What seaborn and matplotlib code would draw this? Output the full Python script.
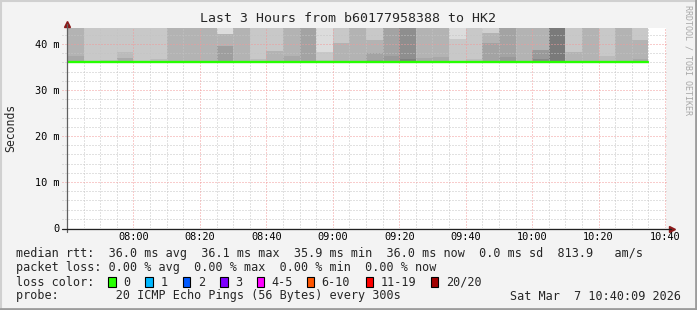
import matplotlib
matplotlib.use("Agg")
import matplotlib.pyplot as plt
import seaborn as sns
import pandas as pd
from matplotlib.patches import Rectangle
from matplotlib.lines import Line2D

# ---------------- data ----------------
col_start_min = [0, 5, 10, 15, 20, 25, 30, 35, 40, 45, 50, 55, 60, 65, 70, 75, 80,
                 85, 90, 95, 100, 105, 110, 115, 120, 125, 130, 135, 140, 145, 150,
                 155, 160, 165, 170]  # minutes after 07:40, 300 s steps
median_ms = [35.98, 35.98, 35.98, 35.98, 35.98, 35.98, 35.98, 36.15, 36.15, 36.15,
             35.98, 35.98, 35.98, 35.98, 35.98, 35.98, 35.98, 35.98, 35.98, 35.98,
             35.98, 35.98, 35.98, 35.98, 35.98, 35.98, 35.98, 35.98, 35.98, 36.15,
             36.15, 36.15, 35.98, 35.98, 35.98]
# smoke bands (from median upward): A lowest/darkest, B, C, D = top (clipped)
band_a_top_ms = [37.45, 35.98, 36.52, 37.03, 36.30, 36.74, 35.98, 36.15, 36.15, 36.38,
                 35.98, 36.74, 38.55, 37.39, 35.98, 36.52, 40.20, 35.98, 36.52, 37.39,
                 36.74, 37.03, 37.25, 41.15, 36.74, 40.30, 37.25, 35.98, 36.80, 36.15,
                 38.30, 36.15, 37.45, 35.98, 36.74]
band_a_gray = [168, 200, 187, 170, 189, 187, 179, 179, 179, 136,
               179, 187, 179, 168, 163, 190, 179, 179, 153, 153,
               128, 168, 168, 200, 189, 163, 153, 179, 136, 122,
               179, 179, 187, 179, 168]
band_b_top_ms = [37.45, 35.98, 36.52, 38.33, 36.30, 36.74, 35.98, 36.15, 36.15, 39.57,
                 35.98, 36.74, 38.55, 37.39, 35.98, 38.30, 40.20, 35.98, 38.12, 37.39,
                 36.74, 37.03, 37.25, 41.15, 36.74, 42.40, 37.25, 35.98, 38.65, 36.15,
                 38.30, 36.15, 37.45, 35.98, 40.90]
band_b_gray = [168, 200, 187, 187, 189, 187, 179, 179, 179, 158,
               179, 187, 179, 168, 163, 200, 179, 179, 163, 153,
               128, 168, 168, 200, 189, 179, 153, 179, 153, 122,
               179, 179, 187, 179, 179]
band_c_top_ms = [37.45, 35.98, 36.52, 38.33, 36.30, 36.74, 35.98, 36.15, 36.15, 42.17,
                 35.98, 36.74, 38.55, 37.39, 35.98, 38.30, 40.20, 35.98, 40.90, 37.39,
                 36.74, 37.03, 37.25, 41.15, 36.74, 42.40, 37.25, 35.98, 38.65, 36.15,
                 38.30, 36.15, 37.45, 35.98, 40.90]
band_c_gray = [168, 200, 187, 187, 189, 187, 179, 179, 179, 179,
               179, 187, 179, 168, 163, 200, 179, 179, 179, 153,
               128, 168, 168, 200, 189, 179, 153, 179, 153, 122,
               179, 179, 187, 179, 179]
band_d_gray = [179, 200, 200, 200, 200, 200, 179, 179, 179, 220,
               179, 200, 200, 179, 163, 220, 200, 179, 200, 163,
               142, 179, 179, 220, 200, 208, 163, 179, 179, 122,
               200, 179, 200, 179, 200]

x_tick_min = [20, 40, 60, 80, 100, 120, 140, 160, 180]
x_tick_labels = ["08:00", "08:20", "08:40", "09:00", "09:20", "09:40", "10:00", "10:20", "10:40"]
y_tick_s = [0.0, 0.01, 0.02, 0.03, 0.04]
y_tick_labels = ["0", "10 m", "20 m", "30 m", "40 m"]

title = "Last 3 Hours from b60177958388 to HK2"
legend_rtt = "median rtt:  36.0 ms avg  36.1 ms max  35.9 ms min  36.0 ms now  0.0 ms sd  813.9   am/s"
legend_loss = "packet loss: 0.00 % avg  0.00 % max  0.00 % min  0.00 % now"
loss_labels = ["0", "1", "2", "3", "4-5", "6-10", "11-19", "20/20"]
loss_colors = ["#26ff00", "#00b8ff", "#0059ff", "#7e00ff", "#ff00ff", "#ff5500", "#ff0000", "#a10000"]
probe_text = "probe:        20 ICMP Echo Pings (56 Bytes) every 300s"
date_text = "Sat Mar  7 10:40:09 2026"

# ---------------- style ----------------
sns.set_style("white")
plt.rcParams["font.family"] = ["DejaVu Sans Mono"]
MONO = "DejaVu Sans Mono"

W, H = 697, 310
fig = plt.figure(figsize=(W / 100, H / 100), dpi=100, facecolor="#f3f3f3")

def fx(x):
    return x / W

def fy(y):
    return 1 - y / H

ax_l, ax_r, ax_t, ax_b = 67, 666, 28, 228
ax = fig.add_axes([fx(ax_l), fy(ax_b), (ax_r - ax_l) / W, (ax_b - ax_t) / H])
ax.set_facecolor("white")
YMAX = 0.04348
XMAX = (ax_r - 66.5) / 3.325
ax.set_xlim(0, XMAX)
ax.set_ylim(0, YMAX)

def g(v):
    return "#%02x%02x%02x" % (v, v, v)

# smoke
df = pd.DataFrame({
    "t": col_start_min,
    "med": [m / 1000 for m in median_ms],
    "a": [m / 1000 for m in band_a_top_ms],
    "b": [m / 1000 for m in band_b_top_ms],
    "c": [m / 1000 for m in band_c_top_ms],
})
layers = [(None, band_d_gray), ("c", band_c_gray), ("b", band_b_gray), ("a", band_a_gray)]
for key, grays in layers:
    tops = [YMAX] * len(df) if key is None else df[key]
    heights = [tp - md for tp, md in zip(tops, df["med"])]
    ax.bar(df["t"], heights, bottom=df["med"], width=5, align="edge",
           color=[g(v) for v in grays], linewidth=0, antialiased=False, zorder=1)

# grid
minor_c, major_c = "#c4c4c4", "#f29a9a"
dot = (0, (1, 2))
for m in range(5, 181, 5):
    if m % 20 == 0:
        continue
    ax.axvline(m, color=minor_c, lw=0.72, ls=dot, zorder=2)
for m in x_tick_min:
    ax.axvline(m, color=major_c, lw=0.72, ls=dot, zorder=2.1)
for v in range(2, 44, 2):
    if v % 10 == 0:
        continue
    ax.axhline(v / 1000, xmin=-0.008, color=minor_c, lw=0.72, ls=dot, zorder=2, clip_on=False)
for v in y_tick_s[1:]:
    ax.axhline(v, xmin=-0.008, color=major_c, lw=0.72, ls=dot, zorder=2.1, clip_on=False)

# median line
xs = col_start_min + [175]
ys = [m / 1000 for m in median_ms] + [median_ms[-1] / 1000]
line_df = pd.DataFrame({"t": xs, "v": ys})
sns.lineplot(data=line_df, x="t", y="v", drawstyle="steps-post", color="#26ff00",
             lw=1.7, ax=ax, zorder=3, estimator=None)

# axes
for s in ax.spines.values():
    s.set_visible(False)
ax.set_xlabel("")
ax.set_ylabel("")
ax.set_xticks(x_tick_min)
ax.set_xticklabels(x_tick_labels)
ax.set_yticks(y_tick_s)
ax.set_yticklabels(y_tick_labels)
ax.tick_params(axis="x", length=0, pad=3.2, labelsize=7.4, labelcolor="#000000")
ax.tick_params(axis="y", length=0, pad=5.6, labelsize=7.4, labelcolor="#000000")
for lab in ax.get_xticklabels() + ax.get_yticklabels():
    lab.set_family(MONO)

axis_c = "#404040"
fig.add_artist(Line2D([fx(67), fx(67)], [fy(232), fy(24)], color="#606060", lw=0.9))
fig.add_artist(Line2D([fx(62), fx(671)], [fy(228.5), fy(228.5)], color="#202020", lw=0.9))
ax.plot([0], [1.0 + 4.5 / 200], marker="^", ms=4.5, color="#8b1a1a", mec="#8b1a1a",
        transform=ax.transAxes, clip_on=False, zorder=5)
ax.plot([1.0 + 6 / 599], [0.0 - 1 / 200], marker=">", ms=4.5, color="#8b1a1a", mec="#8b1a1a",
        transform=ax.transAxes, clip_on=False, zorder=5)

# texts
fig.text(fx(348), fy(19), title, ha="center", va="center", fontsize=9.5, family=MONO)
fig.text(fx(11), fy(127.5), "Seconds", rotation=90, ha="center", va="center", fontsize=8.3, family=MONO)
fig.text(fx(688), fy(60), "RRDTOOL / TOBI OETIKER", rotation=270, ha="center", va="center",
         fontsize=6.0, family=MONO, color="#a8a8a8")

lx = 16
fs = 8.5
fig.text(fx(lx), fy(254), legend_rtt, ha="left", va="center", fontsize=fs, family=MONO)
fig.text(fx(lx), fy(268), legend_loss, ha="left", va="center", fontsize=fs, family=MONO)
fig.text(fx(lx), fy(282), "loss color:", ha="left", va="center", fontsize=fs, family=MONO)
box_x = [108.3, 145.3, 182.7, 220.0, 256.7, 306.7, 365.7, 430.7]
for bx, lab, col in zip(box_x, loss_labels, loss_colors):
    fig.add_artist(Rectangle((fx(bx), fy(286.7)), 7.7 / W, 9.5 / H, facecolor=col,
                             edgecolor="black", lw=0.8, transform=fig.transFigure))
    fig.text(fx(bx + 15), fy(282), lab, ha="left", va="center", fontsize=fs, family=MONO)
fig.text(fx(lx), fy(296), probe_text, ha="left", va="center", fontsize=fs, family=MONO)
fig.text(fx(681), fy(296), date_text, ha="right", va="center", fontsize=fs, family=MONO)

# frame
fig.add_artist(Line2D([0, 1], [fy(0.5), fy(0.5)], color="#d0d0d0", lw=1.5))
fig.add_artist(Line2D([fx(0.5), fx(0.5)], [0, 1], color="#d0d0d0", lw=1.5))
fig.add_artist(Line2D([0, 1], [fy(309), fy(309)], color="#9c9c9c", lw=2.0))
fig.add_artist(Line2D([fx(696), fx(696)], [0, 1], color="#9c9c9c", lw=2.0))

fig.savefig("out.png", dpi=100, facecolor=fig.get_facecolor())
